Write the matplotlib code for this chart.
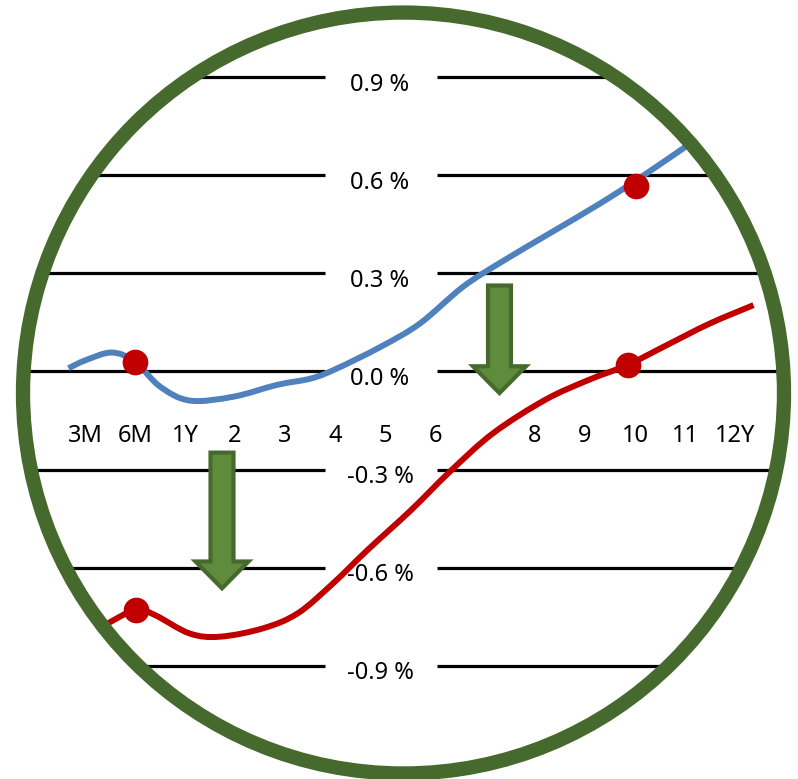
import numpy as np
import matplotlib
matplotlib.use("Agg")
import matplotlib.pyplot as plt
from matplotlib.patches import Ellipse, FancyArrow, PathPatch
from matplotlib.path import Path
import matplotlib.transforms as mtransforms

plt.rcParams['font.family'] = ['Noto Sans', 'DejaVu Sans']

# ---- data -------------------------------------------------------------
tenors = ["3M", "6M", "1Y", "2", "3", "4", "5", "6", "", "8", "9", "10", "11", "12Y"]
grid_levels = [0.9, 0.6, 0.3, 0.0, -0.3, -0.6, -0.9]
grid_labels = ["0.9 %", "0.6 %", "0.3 %", "0.0 %", "-0.3 %", "-0.6 %", "-0.9 %"]

# current curve (position on tenor axis, yield in %)
curve_now_x = [-0.33, 0.02, 0.54, 1.0, 1.5, 2.1, 2.97, 3.84, 4.53, 5.05, 5.92,
               6.70, 7.56, 8.34, 9.30, 10.25, 11.04, 12.16]
curve_now_y = [0.010, 0.035, 0.058, 0.030, -0.046, -0.089, -0.077, -0.041, -0.021,
               0.010, 0.076, 0.147, 0.259, 0.336, 0.423, 0.509, 0.586, 0.703]

# shifted curve
curve_new_x = [0.40, 1.01, 1.40, 2.09, 2.70, 3.57, 4.26, 4.96, 5.65, 6.52, 7.30,
               8.16, 9.20, 10.07, 10.85, 11.64, 12.50, 13.37]
curve_new_y = [-0.775, -0.729, -0.745, -0.801, -0.811, -0.785, -0.739, -0.648, -0.546,
               -0.424, -0.306, -0.189, -0.087, -0.026, 0.020, 0.081, 0.147, 0.203]

# highlighted points (6M and 10Y)
dots_x = [1.0, 11.02, 1.01, 10.85]
dots_y = [0.030, 0.568, -0.729, 0.020]

# downward shift arrows: x position, start level, end level
arrow_x = [2.74, 8.29]
arrow_top = [-0.248, 0.263]
arrow_tip = [-0.663, -0.066]

# ---- styling ----------------------------------------------------------
RING = "#466a2e"
ARROW_FILL = "#5e8b3c"
BLUE = "#4f81bd"
RED = "#c00000"
TEXT = "#000000"


def smooth_path(xs, ys):
    """Catmull-Rom spline through the points, expressed as cubic Bezier path."""
    p = np.column_stack([xs, ys])
    n = len(p)
    verts = [p[0]]
    codes = [Path.MOVETO]
    for i in range(n - 1):
        p0 = p[i - 1] if i > 0 else p[i]
        p1 = p[i]
        p2 = p[i + 1]
        p3 = p[i + 2] if i + 2 < n else p[i + 1]
        c1 = p1 + (p2 - p0) / 6.0
        c2 = p2 - (p3 - p1) / 6.0
        verts += [c1, c2, p2]
        codes += [Path.CURVE4] * 3
    return Path(np.array(verts), codes)


fig = plt.figure(figsize=(7.98, 7.79), dpi=100)
ax = fig.add_axes([0, 0, 1, 1])
ax.set_xlim(-1.70, 14.26)
ax.set_ylim(-1.2462, 1.1361)
ax.axis("off")

# circular frame
cx, cy = 6.37, -0.0658
ring_w, ring_h = 15.22, 2.327
clip_circle = Ellipse((cx, cy), ring_w, ring_h, transform=ax.transData)

# horizontal gridlines with a gap for the value label
gap_left, gap_right = 4.80, 7.04
for lvl in grid_levels:
    for x0, x1 in [(-1.70, gap_left), (gap_right, 14.26)]:
        ln, = ax.plot([x0, x1], [lvl, lvl], color="black", lw=2.3,
                      solid_capstyle="butt", zorder=1)
        ln.set_clip_path(clip_circle)

label_off = mtransforms.offset_copy(ax.transData, fig=fig, x=0, y=-13.5, units="dots")
for lvl, lab in zip(grid_levels, grid_labels):
    ax.text(5.9, lvl, lab, transform=label_off, ha="center", va="baseline",
            fontsize=17, fontweight="light", color=TEXT, zorder=2)

# tenor labels
for i, t in enumerate(tenors):
    ax.text(i, -0.2156, t, ha="center", va="baseline", fontsize=17,
            fontweight="light", color=TEXT, zorder=2)

# curves
for xs, ys, col in [(curve_now_x, curve_now_y, BLUE), (curve_new_x, curve_new_y, RED)]:
    ax.add_patch(PathPatch(smooth_path(xs, ys), facecolor="none", edgecolor=col,
                           lw=4.3, capstyle="butt", joinstyle="round", zorder=3))

ax.plot(dots_x, dots_y, "o", color=RED, markersize=18.5, markeredgewidth=0, zorder=4)

# arrows
for x, top, tip in zip(arrow_x, arrow_top, arrow_tip):
    ax.add_patch(FancyArrow(x, top, 0, tip - top, width=0.46, head_width=1.06,
                            head_length=0.082, length_includes_head=True,
                            facecolor=ARROW_FILL, edgecolor=RING, lw=3.0,
                            joinstyle="miter", zorder=5))

# ring on top
ax.add_patch(Ellipse((cx, cy), ring_w, ring_h, facecolor="none", edgecolor=RING,
                     lw=10.3, zorder=6))

fig.savefig("out.png", dpi=100)
